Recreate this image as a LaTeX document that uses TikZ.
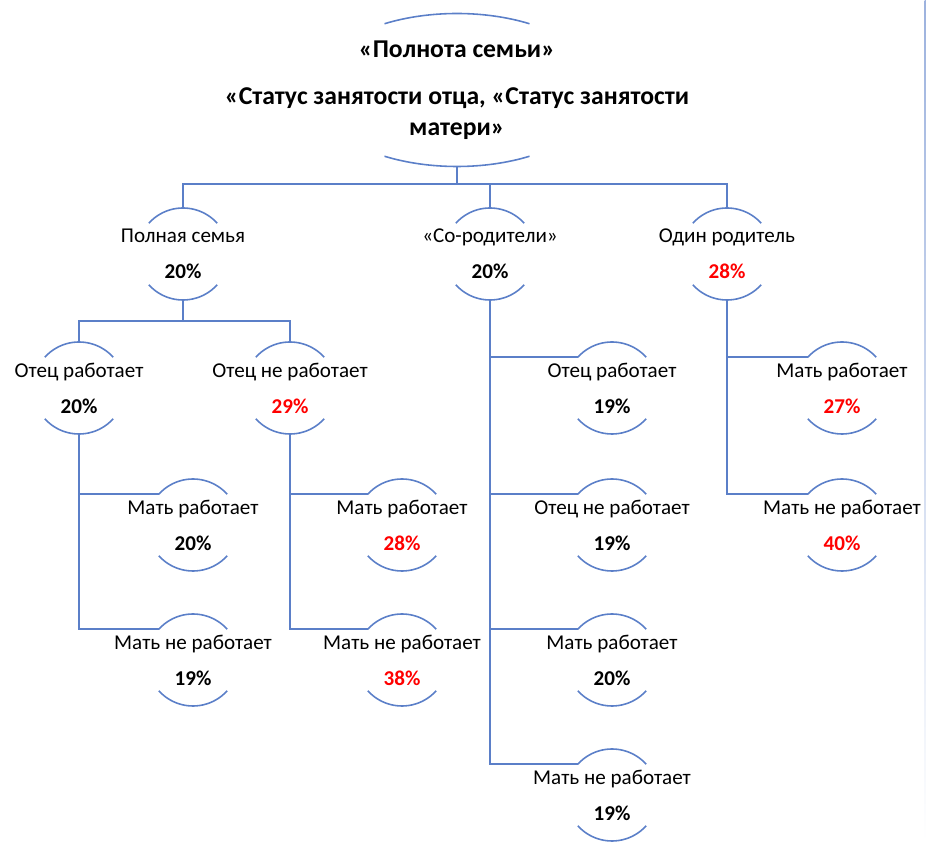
\documentclass[tikz,border=0pt]{standalone}
\usepackage{fontspec}
\setmainfont{Carlito}
\usepackage{tikz}
\usetikzlibrary{calc}
\definecolor{treeline}{HTML}{5B7FC8}
\definecolor{hot}{HTML}{FF0000}
\newcommand{\pct}[1]{\textbf{#1\%}}
\newcommand{\hotpct}[1]{\textbf{\color{hot}#1\%}}

\begin{document}
\begin{tikzpicture}[every node/.style={align=center, inner sep=0pt, font=\fontsize{12}{20.5}\selectfont},
  link/.style={treeline, line width=1.1pt},
  arcline/.style={treeline, line width=0.9pt}]
\useasboundingbox (0,0) rectangle (18.52,-16.84);
% root
\node[font=\bfseries\fontsize{14.6}{17.8}\selectfont] (root) at (9.14,-1.80) {«Полнота семьи»\\[9pt]«Статус занятости отца, «Статус занятости\\матери»};
\draw[arcline] ($(root.center)+(60:2.9 and 1.53)$) arc[start angle=60, end angle=120, x radius=2.9, y radius=1.53];
\draw[arcline] ($(root.center)+(240:2.9 and 1.53)$) arc[start angle=240, end angle=300, x radius=2.9, y radius=1.53];
\coordinate (root-bot) at ($(root.center)+(0,-1.53)$);
% first level
\node (full) at (3.66,-5.08) {Полная семья\\\pct{20}};
\node (co) at (9.80,-5.08) {«Со-родители»\\\pct{20}};
\node (one) at (14.54,-5.08) {Один родитель\\\hotpct{28}};
% full family
\node (fw) at (1.58,-7.76) {Отец работает\\\pct{20}};
\node (fnw) at (5.80,-7.76) {Отец не работает\\\hotpct{29}};
\node (mw1) at (3.86,-10.50) {Мать работает\\\pct{20}};
\node (mnw1) at (3.86,-13.20) {Мать не работает\\\pct{19}};
\node (mw2) at (8.04,-10.50) {Мать работает\\\hotpct{28}};
\node (mnw2) at (8.04,-13.20) {Мать не работает\\\hotpct{38}};
% co-parents
\node (cfw) at (12.24,-7.76) {Отец работает\\\pct{19}};
\node (cfnw) at (12.24,-10.50) {Отец не работает\\\pct{19}};
\node (cmw) at (12.24,-13.20) {Мать работает\\\pct{20}};
\node (cmnw) at (12.24,-15.90) {Мать не работает\\\pct{19}};
% one parent
\node (omw) at (16.84,-7.76) {Мать работает\\\hotpct{27}};
\node (omnw) at (16.84,-10.50) {Мать не работает\\\hotpct{40}};
% arcs above and below every node
\foreach \n in {full,co,one,fw,fnw,mw1,mnw1,mw2,mnw2,cfw,cfnw,cmw,cmnw,omw,omnw} {
  \draw[arcline] ($(\n.center)+(42:0.92)$) arc[start angle=42, end angle=138, radius=0.92];
  \draw[arcline] ($(\n.center)+(222:0.92)$) arc[start angle=222, end angle=318, radius=0.92];
  \coordinate (\n-top) at ($(\n.center)+(0,0.92)$);
  \coordinate (\n-bot) at ($(\n.center)+(0,-0.92)$);
  \coordinate (\n-in) at ($(\n.center)+(138:0.92)$);
}
% connectors
\coordinate (bus) at (0,-3.68);
\coordinate (fbus) at (0,-6.42);
\draw[link] (root-bot) -- (root-bot |- bus);
\draw[link] (full-top) |- (one-top |- bus) -- (one-top);
\draw[link] (co-top) -- (co-top |- bus);
\draw[link] (full-bot) -- (full-bot |- fbus);
\draw[link] (fw-top) |- (fnw-top |- fbus) -- (fnw-top);
\draw[link] (fw-bot) |- (mw1-in) (fw-bot) |- (mnw1-in);
\draw[link] (fnw-bot) |- (mw2-in) (fnw-bot) |- (mnw2-in);
\draw[link] (co-bot) |- (cfw-in) (co-bot) |- (cfnw-in) (co-bot) |- (cmw-in) (co-bot) |- (cmnw-in);
\draw[link] (one-bot) |- (omw-in) (one-bot) |- (omnw-in);
% right edge
\shade[top color=treeline!60, bottom color=white] (18.49,0) rectangle (18.52,-16.84);
\end{tikzpicture}
\end{document}
